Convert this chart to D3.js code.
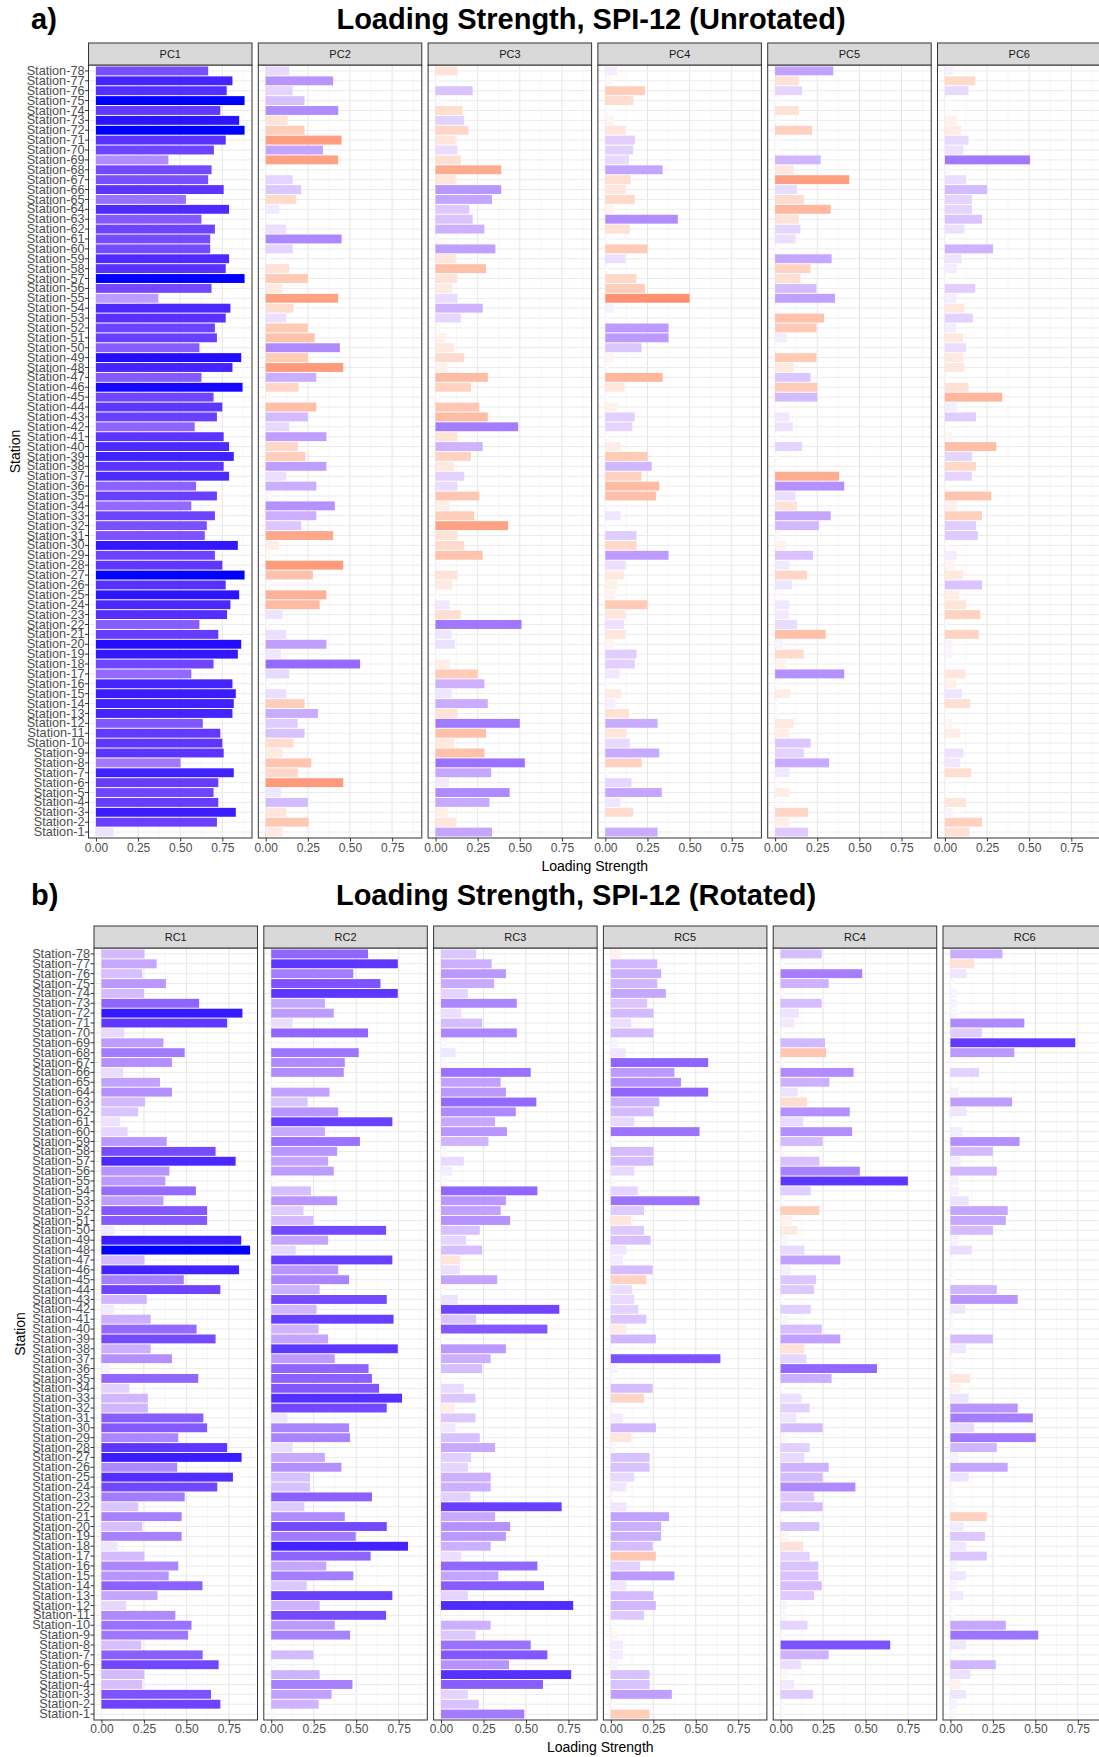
<!DOCTYPE html>
<html>
<head>
<meta charset="utf-8">
<script src="https://cdn.jsdelivr.net/npm/d3@7"></script>
<style>
  body { margin: 0; background: #fff; }
  svg { display: block; font-family: 'Liberation Sans', Arial, sans-serif; }
</style>
</head>
<body>
<svg id="chart" width="1099" height="1757"></svg>
<script>
// values are listed top to bottom, Station-78 first, Station-1 last
const stations = d3.range(78, 0, -1).map(i => `Station-${i}`)

const tickValues = [0, 0.25, 0.5, 0.75]

// a) unrotated loadings
const pc1 = [0.666, 0.81, 0.776, 0.882, 0.738, 0.85, 0.882, 0.77, 0.70, 0.43,
  0.686, 0.666, 0.758, 0.534, 0.79, 0.626, 0.706, 0.678, 0.678, 0.79,
  0.77, 0.882, 0.686, 0.37, 0.798, 0.77, 0.706, 0.718, 0.614, 0.862,
  0.81, 0.626, 0.87, 0.698, 0.75, 0.718, 0.586, 0.758, 0.79, 0.818,
  0.758, 0.79, 0.594, 0.718, 0.566, 0.706, 0.658, 0.646, 0.842, 0.706,
  0.75, 0.882, 0.77, 0.85, 0.798, 0.778, 0.614, 0.726, 0.862, 0.842,
  0.698, 0.566, 0.81, 0.83, 0.818, 0.81, 0.634, 0.738, 0.75, 0.758,
  0.502, 0.818, 0.726, 0.698, 0.726, 0.83, 0.718, 0.104]
const pc2 = [0.14, 0.40, 0.16, 0.23, 0.43, -0.13, -0.23, -0.45, 0.34, -0.43,
  0.02, 0.16, 0.21, -0.18, 0.08, 0.02, 0.12, 0.45, 0.16, 0.02,
  -0.14, -0.25, -0.10, -0.43, -0.165, 0.12, -0.25, -0.29, 0.44, -0.25,
  -0.46, 0.30, -0.195, -0.03, -0.30, 0.25, 0.14, 0.36, -0.19, -0.235,
  0.36, 0.12, 0.30, 0.03, 0.41, 0.30, 0.21, -0.40, -0.08, -0.03,
  -0.46, -0.28, -0.03, -0.36, -0.32, 0.10, 0.02, 0.12, 0.36, 0.09,
  0.56, 0.14, 0.02, 0.12, -0.23, 0.31, 0.19, 0.23, -0.165, -0.10,
  -0.27, -0.19, -0.46, 0.09, 0.25, -0.12, -0.255, -0.10]
const pc3 = [-0.13, 0.02, 0.22, 0.03, -0.16, 0.17, -0.195, -0.12, 0.13, -0.15,
  -0.39, -0.12, 0.39, 0.335, 0.20, 0.22, 0.29, 0.02, 0.355, -0.12,
  -0.30, -0.13, -0.10, 0.13, 0.28, 0.15, 0.03, -0.06, -0.11, -0.17,
  -0.07, -0.31, -0.21, 0.02, -0.26, -0.31, 0.49, -0.13, 0.28, -0.21,
  -0.11, 0.17, 0.13, -0.26, -0.085, -0.23, -0.43, -0.13, -0.17, -0.28,
  0.03, -0.13, -0.10, 0.02, 0.085, -0.15, 0.51, 0.095, 0.115, 0.02,
  -0.085, -0.25, 0.29, 0.095, 0.31, -0.13, 0.50, -0.30, -0.11, -0.29,
  0.53, 0.33, 0.08, 0.44, 0.32, -0.075, -0.12, 0.335]
const pc4 = [0.07, -0.04, -0.235, -0.165, 0.02, -0.05, -0.12, 0.175, 0.165, 0.14,
  0.34, -0.15, -0.12, -0.175, -0.05, 0.43, -0.145, 0.02, -0.25, 0.12,
  0.02, -0.185, -0.235, -0.50, 0.05, 0.02, 0.375, 0.375, 0.215, -0.05,
  0.02, -0.34, -0.115, 0.02, -0.07, 0.175, 0.16, 0.02, -0.09, -0.25,
  0.275, -0.215, -0.32, -0.30, 0.02, 0.09, 0.02, 0.185, -0.185, 0.375,
  0.12, -0.11, -0.07, -0.06, -0.25, -0.12, 0.11, -0.12, -0.05, 0.185,
  0.175, 0.085, 0.02, -0.095, 0.06, -0.14, 0.31, -0.125, 0.145, 0.32,
  -0.215, 0.02, 0.155, 0.335, 0.09, -0.165, 0.02, 0.31]
const pc5 = [0.345, -0.14, 0.16, 0.02, -0.14, 0.02, -0.22, 0.02, 0.02, 0.27,
  -0.11, -0.44, 0.13, -0.17, -0.33, -0.14, 0.15, 0.12, 0.02, 0.335,
  -0.21, -0.15, 0.245, 0.355, 0.02, -0.29, -0.245, 0.07, 0.02, -0.245,
  -0.11, 0.21, -0.25, 0.25, 0.02, 0.085, 0.105, 0.02, 0.16, 0.02,
  0.02, -0.38, 0.41, 0.12, -0.13, 0.33, 0.26, 0.03, -0.065, 0.225,
  0.085, -0.19, 0.10, 0.02, 0.085, 0.08, 0.13, -0.30, 0.045, -0.17,
  -0.065, 0.41, 0.02, -0.09, 0.02, 0.02, -0.11, -0.085, 0.21, 0.17,
  0.32, 0.085, 0.02, -0.085, 0.02, -0.195, -0.085, 0.195]
const pc6 = [0.05, -0.18, 0.14, 0.02, 0.02, -0.07, -0.095, 0.14, 0.11, 0.505,
  0.03, 0.125, 0.25, 0.16, 0.16, 0.22, 0.115, 0.02, 0.285, 0.10,
  0.07, 0.02, 0.18, 0.07, -0.115, 0.165, 0.065, -0.11, 0.125, -0.11,
  -0.115, 0.02, -0.14, -0.34, 0.07, 0.185, 0.02, -0.045, -0.305, 0.16,
  -0.185, 0.16, 0.02, -0.275, -0.07, -0.22, 0.185, 0.195, 0.02, 0.07,
  -0.055, -0.11, 0.22, -0.085, -0.125, -0.21, 0.02, -0.20, 0.045, 0.045,
  0.02, -0.12, -0.07, 0.10, -0.15, 0.02, -0.045, -0.09, 0.02, 0.11,
  0.09, -0.155, 0.02, 0.02, -0.125, 0.045, -0.22, -0.145]

// b) rotated loadings
const rc1 = [0.253, 0.325, 0.24, 0.38, 0.25, 0.575, 0.83, 0.74, 0.135, 0.365,
  0.49, 0.415, 0.127, 0.345, 0.415, 0.257, 0.216, 0.11, 0.154, 0.384,
  0.672, 0.79, 0.40, 0.376, 0.556, 0.365, 0.622, 0.622, 0.076, 0.823,
  0.875, 0.253, 0.81, 0.485, 0.70, 0.267, 0.076, 0.29, 0.56, 0.672,
  0.29, 0.415, 0.05, 0.57, 0.164, 0.273, 0.273, 0.60, 0.622, 0.452,
  0.74, 0.825, 0.446, 0.774, 0.682, 0.49, 0.216, 0.472, 0.24, 0.472,
  0.095, 0.253, 0.452, 0.396, 0.595, 0.33, 0.146, 0.435, 0.53, 0.51,
  0.234, 0.596, 0.69, 0.253, 0.24, 0.645, 0.70, 0.02]
const rc2 = [0.57, 0.745, 0.483, 0.643, 0.745, 0.316, 0.368, 0.125, 0.57, 0.02,
  0.515, 0.433, 0.427, 0.02, 0.343, 0.214, 0.394, 0.713, 0.316, 0.522,
  0.388, 0.335, 0.368, -0.03, 0.234, 0.388, 0.19, 0.248, 0.676, 0.335,
  0.144, 0.713, 0.394, 0.458, 0.285, 0.68, 0.267, 0.72, 0.279, 0.335,
  0.745, 0.374, 0.573, 0.593, 0.635, 0.77, 0.68, 0.095, 0.458, 0.464,
  0.125, 0.316, 0.413, 0.228, 0.228, 0.593, 0.195, 0.433, 0.68, 0.497,
  0.805, 0.585, 0.324, 0.483, 0.209, 0.713, 0.285, 0.676, 0.374, 0.464,
  0.02, 0.248, 0.03, 0.285, 0.478, 0.355, 0.279, 0.03]
const rc3 = [0.207, 0.298, 0.382, 0.312, 0.158, 0.446, 0.119, 0.242, 0.446, 0.03,
  0.086, 0.03, 0.528, 0.351, 0.382, 0.561, 0.44, 0.318, 0.388, 0.279,
  0.03, 0.134, 0.066, 0.03, 0.567, 0.382, 0.351, 0.407, 0.228, 0.148,
  0.242, -0.115, 0.111, 0.331, 0.02, 0.10, 0.696, 0.207, 0.626, 0.02,
  0.382, 0.292, 0.242, 0.02, 0.134, 0.203, -0.08, 0.203, 0.086, 0.228,
  0.318, 0.177, 0.158, 0.292, 0.292, 0.172, 0.71, 0.318, 0.407, 0.382,
  0.292, 0.119, 0.567, 0.337, 0.606, 0.158, 0.778, 0.02, 0.292, 0.203,
  0.528, 0.626, 0.40, 0.766, 0.60, 0.158, 0.222, 0.49]
const rc5 = [-0.06, 0.273, 0.296, 0.273, 0.324, 0.214, 0.251, 0.12, 0.251, 0.04,
  0.088, 0.573, 0.374, 0.413, 0.573, 0.285, 0.251, 0.138, 0.522, 0.02,
  0.251, 0.251, 0.138, 0.02, 0.158, 0.522, 0.195, -0.12, 0.195, 0.234,
  0.092, 0.072, 0.246, -0.209, 0.125, 0.138, 0.162, 0.209, -0.092, 0.265,
  0.02, 0.645, 0.04, 0.02, 0.246, -0.195, 0.02, 0.072, 0.265, -0.12,
  0.03, 0.228, 0.228, 0.138, 0.092, 0.02, 0.092, 0.343, 0.296, 0.296,
  0.246, -0.265, 0.173, 0.374, 0.092, 0.251, 0.265, 0.195, 0.02, -0.04,
  0.072, 0.072, 0.04, 0.228, 0.228, 0.359, 0.02, -0.228]
const rc4 = [0.242, 0.02, 0.48, 0.283, 0.02, 0.242, 0.107, 0.08, 0.02, 0.261,
  -0.267, 0.02, 0.429, 0.287, 0.10, -0.156, 0.407, 0.133, 0.421, 0.248,
  0.02, 0.228, 0.466, 0.749, 0.177, 0.02, -0.228, -0.066, -0.10, 0.04,
  0.14, 0.351, 0.06, 0.209, 0.197, 0.02, 0.177, 0.04, 0.242, 0.351,
  -0.14, 0.152, 0.567, 0.30, 0.02, 0.119, 0.171, 0.093, 0.248, -0.04,
  0.171, 0.14, 0.283, 0.248, 0.44, 0.197, 0.248, 0.02, 0.228, -0.05,
  -0.133, 0.171, 0.222, 0.222, 0.242, 0.197, 0.04, 0.03, 0.158, 0.02,
  0.645, 0.283, 0.119, -0.04, 0.08, 0.19, 0.02, 0.02]
const rc6 = [0.306, -0.14, 0.095, 0.02, 0.04, 0.04, 0.04, 0.435, 0.185, 0.735,
  0.376, 0.02, 0.168, 0.02, 0.05, 0.363, 0.095, 0.02, 0.07, 0.407,
  0.25, 0.06, 0.273, 0.05, 0.05, 0.107, 0.337, 0.326, 0.25, 0.05,
  0.125, 0.02, 0.02, 0.02, 0.273, 0.396, 0.088, 0.02, 0.02, 0.25,
  0.092, 0.02, 0.02, -0.115, -0.06, 0.107, 0.396, 0.485, 0.14, 0.503,
  0.273, 0.05, 0.337, 0.107, 0.02, 0.02, 0.03, -0.214, 0.076, 0.203,
  0.092, 0.214, 0.04, 0.092, 0.04, 0.076, 0.02, 0.02, 0.326, 0.517,
  0.092, 0.02, 0.267, 0.115, -0.06, 0.092, 0.04, 0.03]

const unrotatedNames = ['PC1', 'PC2', 'PC3', 'PC4', 'PC5', 'PC6']
const rotatedNames = ['RC1', 'RC2', 'RC3', 'RC5', 'RC4', 'RC6']

// --------------------------------------------

const panelWidth = 163.5
const panelStep = 169.8
const stripHeight = 22

const svg = d3.select('#chart')

const drawChart = ({ names, series, letter, title, titleX, titleY, stripTop, panelBottom, panelLeft, yTitleX, tickY, xTitleY }) => {
  const panelTop = stripTop + stripHeight
  const maxAbs = d3.max(series.flat(), v => Math.abs(v))

  const x = d3.scaleLinear().domain([-0.05 * maxAbs, 1.05 * maxAbs]).range([0, panelWidth])
  const y = d3
    .scaleBand()
    .domain(stations)
    .range([panelTop, panelBottom])
    .paddingInner(0.1)
    .paddingOuter(0.15)
  const fill = d3
    .scaleLinear()
    .domain([-maxAbs, 0, maxAbs])
    .range(['red', 'white', 'blue'])
    .interpolate(d3.interpolateLab)

  const g = svg.append('g')

  g.append('text')
    .attr('x', 31)
    .attr('y', titleY)
    .attr('font-size', 29)
    .attr('font-weight', 'bold')
    .text(letter)

  g.append('text')
    .attr('x', titleX)
    .attr('y', titleY)
    .attr('text-anchor', 'middle')
    .attr('font-size', 29)
    .attr('font-weight', 'bold')
    .text(title)

  names.forEach((name, k) => {
    const values = series[k]
    const panel = g.append('g').attr('transform', `translate(${panelLeft + k * panelStep},0)`)

    panel
      .append('rect')
      .attr('y', panelTop)
      .attr('width', panelWidth)
      .attr('height', panelBottom - panelTop)
      .attr('fill', 'white')

    // minor grid
    panel
      .selectAll('.minor')
      .data([0.125, 0.375, 0.625, 0.875].filter(d => x(d) < panelWidth))
      .enter()
      .append('line')
      .attr('x1', d => x(d))
      .attr('x2', d => x(d))
      .attr('y1', panelTop)
      .attr('y2', panelBottom)
      .attr('stroke', '#f3f3f3')
      .attr('stroke-width', 0.6)

    panel
      .selectAll('.major-x')
      .data(tickValues)
      .enter()
      .append('line')
      .attr('x1', d => x(d))
      .attr('x2', d => x(d))
      .attr('y1', panelTop)
      .attr('y2', panelBottom)
      .attr('stroke', '#e6e6e6')
      .attr('stroke-width', 1)

    panel
      .selectAll('.major-y')
      .data(stations)
      .enter()
      .append('line')
      .attr('x1', 0)
      .attr('x2', panelWidth)
      .attr('y1', d => y(d) + y.bandwidth() / 2)
      .attr('y2', d => y(d) + y.bandwidth() / 2)
      .attr('stroke', '#ebebeb')
      .attr('stroke-width', 1)

    panel
      .selectAll('.bar')
      .data(values)
      .enter()
      .append('rect')
      .attr('x', x(0))
      .attr('y', (v, i) => y(stations[i]))
      .attr('width', v => x(Math.abs(v)) - x(0))
      .attr('height', y.bandwidth())
      .attr('fill', v => fill(v))

    panel
      .append('rect')
      .attr('y', panelTop)
      .attr('width', panelWidth)
      .attr('height', panelBottom - panelTop)
      .attr('fill', 'none')
      .attr('stroke', '#333')
      .attr('stroke-width', 1)

    // strip
    panel
      .append('rect')
      .attr('y', stripTop)
      .attr('width', panelWidth)
      .attr('height', stripHeight)
      .attr('fill', '#d9d9d9')
      .attr('stroke', '#333')
      .attr('stroke-width', 1)

    panel
      .append('text')
      .attr('x', panelWidth / 2)
      .attr('y', stripTop + stripHeight / 2 + 4)
      .attr('text-anchor', 'middle')
      .attr('font-size', 11)
      .attr('fill', '#1a1a1a')
      .text(name)

    // x axis
    const xAxis = panel
      .append('g')
      .attr('transform', `translate(0,${panelBottom})`)
      .call(d3.axisBottom(x).tickValues(tickValues).tickFormat(d3.format('.2f')).tickSize(3.5))
    xAxis.select('.domain').remove()
    xAxis.selectAll('line').attr('stroke', '#333')
    xAxis
      .selectAll('text')
      .attr('y', tickY - panelBottom)
      .attr('dy', 0)
      .attr('font-size', 12)
      .attr('font-family', "'Liberation Sans', Arial, sans-serif")
      .attr('fill', '#4d4d4d')

    if (k === 0) {
      const yAxis = panel.append('g').call(d3.axisLeft(y).tickSize(3.5).tickPadding(0.5))
      yAxis.select('.domain').remove()
      yAxis.selectAll('line').attr('stroke', '#333')
      yAxis
        .selectAll('text')
        .attr('font-size', 12.7)
        .attr('font-family', "'Liberation Sans', Arial, sans-serif")
        .attr('fill', '#4d4d4d')
    }
  })

  const panelsRight = panelLeft + (names.length - 1) * panelStep + panelWidth

  g.append('text')
    .attr('x', (panelLeft + panelsRight) / 2)
    .attr('y', xTitleY)
    .attr('text-anchor', 'middle')
    .attr('font-size', 14)
    .text('Loading Strength')

  g.append('text')
    .attr('transform', `translate(${yTitleX},${(panelTop + panelBottom) / 2}) rotate(-90)`)
    .attr('text-anchor', 'middle')
    .attr('font-size', 14)
    .text('Station')
}

drawChart({
  names: unrotatedNames,
  series: [pc1, pc2, pc3, pc4, pc5, pc6],
  letter: 'a)',
  title: 'Loading Strength, SPI-12 (Unrotated)',
  titleX: 591,
  titleY: 29,
  stripTop: 43,
  panelBottom: 838,
  panelLeft: 88.5,
  yTitleX: 20,
  tickY: 852,
  xTitleY: 871
})

drawChart({
  names: rotatedNames,
  series: [rc1, rc2, rc3, rc5, rc4, rc6],
  letter: 'b)',
  title: 'Loading Strength, SPI-12 (Rotated)',
  titleX: 576,
  titleY: 905,
  stripTop: 926,
  panelBottom: 1720,
  panelLeft: 94,
  yTitleX: 25,
  tickY: 1733,
  xTitleY: 1752
})
</script>
</body>
</html>
